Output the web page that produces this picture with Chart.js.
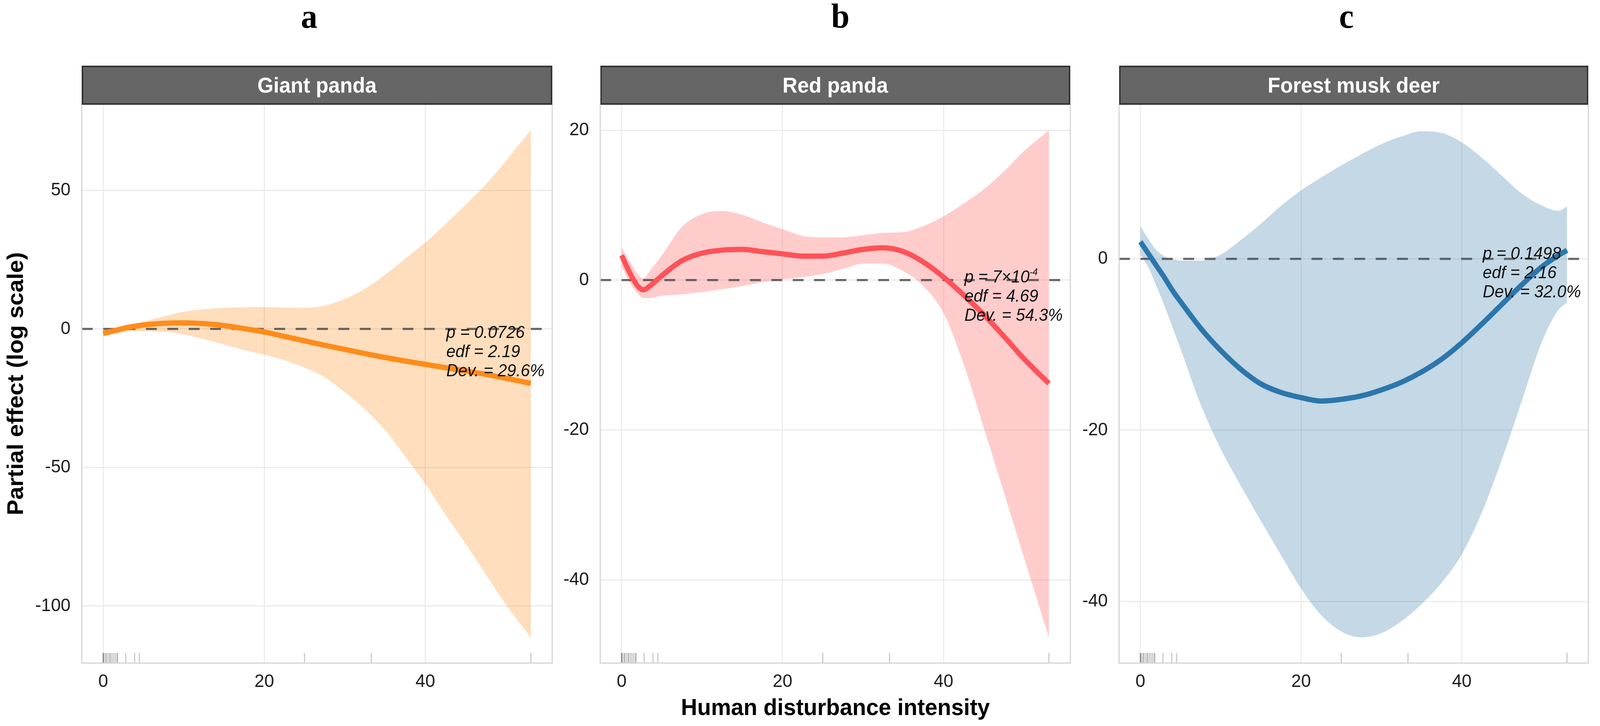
<!DOCTYPE html>
<html>
<head>
<meta charset="utf-8">
<script src="https://cdn.jsdelivr.net/npm/chart.js@4.4.1/dist/chart.umd.min.js"></script>
<style>
  html, body { margin: 0; padding: 0; background: #fff; overflow: hidden; }
  #page { position: absolute; left: 0; top: 0; width: 4265px; height: 1858px; transform-origin: 0 0;
          font-family: 'Liberation Sans', Arial, sans-serif; }
  .panel { position: absolute; }
  .strip { position: absolute; box-sizing: border-box; background: #666666; border: 4px solid #333333;
           color: #fff; font-weight: bold; font-size: 55px; line-height: 92px; text-align: center; }
  .tag { position: absolute; top: -2px; width: 200px; text-align: center; font-family: 'Liberation Serif', 'Times New Roman', serif;
         font-weight: bold; font-size: 88px; line-height: 88px; color: #000; }
  .note { position: absolute; font-style: italic; font-size: 44px; line-height: 49px; color: #111; white-space: nowrap; }
  .note sup { font-size: 0.55em; line-height: 0; vertical-align: 0.8em; }
  .axtitle { position: absolute; font-weight: bold; font-size: 60px; line-height: 60px; color: #000; white-space: nowrap; text-align: center; }
</style>
</head>
<body>
<div id="page"></div>
<script>
// --- data ---
const species = ['Giant panda', 'Red panda', 'Forest musk deer'];
const panelTags = ['a', 'b', 'c'];
const xTicks = [0, 20, 40];
const yTicksGiant = [-100, -50, 0, 50];
const yTicksRed = [-40, -20, 0, 20];
const yTicksDeer = [-40, -20, 0];

// Giant panda
const xGiant = [0, 2, 3, 5, 7.5, 10, 12.5, 15, 17.5, 20, 22.5, 25, 27.5, 30, 32.5, 35, 37.5, 40, 42.5, 45, 47.5, 50, 53.1];
const fitGiant = [-1.6, -0.2, 0.5, 1.4, 2.0, 2.2, 1.9, 1.2, 0.1, -1.1, -2.7, -4.3, -5.9, -7.4, -8.9, -10.3, -11.6, -12.8, -14.0, -15.2, -16.4, -17.8, -19.7];
const upperGiant = [-0.6, 0.6, 1.2, 2.6, 4.5, 6.2, 7.1, 7.6, 7.8, 7.9, 7.7, 7.6, 8.4, 10.8, 14.5, 19.5, 25.3, 31.2, 37.8, 44.8, 52.1, 60.6, 71.7];
const lowerGiant = [-2.7, -1.5, -1.0, -0.8, -1.0, -2.0, -3.7, -5.6, -7.6, -9.3, -11.3, -14.0, -17.5, -22.8, -29.0, -36.5, -46.0, -56.0, -67.0, -77.5, -88.5, -99.5, -111.4];

// Red panda
const xRed = [0, 1, 2, 2.7, 3.5, 5, 7.5, 10, 12.5, 15, 17.5, 20, 22.5, 25, 27.5, 30, 32.5, 35, 37.5, 40, 42.5, 45, 47.5, 50, 53.1];
const fitRed = [3.3, 1.0, -0.8, -1.3, -0.8, 0.6, 2.6, 3.6, 4.0, 4.1, 3.8, 3.5, 3.2, 3.2, 3.6, 4.1, 4.3, 3.8, 2.4, 0.4, -2.0, -4.6, -7.5, -10.5, -13.8];
const upperRed = [4.3, 2.5, 0.8, 0.2, 1.2, 3.3, 7.1, 8.8, 9.2, 8.7, 7.7, 6.8, 5.9, 5.7, 5.7, 6.0, 6.3, 6.4, 7.2, 8.5, 10.2, 12.1, 14.5, 17.2, 20.0];
const lowerRed = [1.8, -0.3, -1.8, -2.4, -2.4, -2.1, -1.9, -1.6, -1.2, -0.8, -0.3, 0.1, 0.4, 0.8, 1.5, 2.2, 2.2, 1.2, -0.8, -4.4, -11.2, -19.7, -28.3, -37.0, -47.7];

// Forest musk deer
const xDeer = [0, 1, 2, 3, 4, 5, 7.5, 10, 12.5, 15, 17.5, 20, 22.5, 25, 27.5, 30, 32.5, 35, 37.5, 40, 42.5, 45, 47.5, 50, 52, 53.1];
const fitDeer = [2.0, 0.6, -0.8, -2.2, -3.7, -5.0, -8.1, -10.7, -12.9, -14.6, -15.6, -16.2, -16.6, -16.4, -16.0, -15.3, -14.4, -13.2, -11.7, -9.8, -7.6, -5.3, -3.0, -0.9, 0.4, 1.0];
const upperDeer = [3.8, 2.3, 1.0, 0.3, -0.05, -0.2, -0.2, 0.5, 2.2, 4.1, 6.2, 8.0, 9.5, 10.9, 12.2, 13.4, 14.3, 14.9, 14.7, 13.6, 11.8, 9.7, 7.6, 6.2, 5.6, 6.1];
const lowerDeer = [0.5, -1.0, -3.2, -5.5, -8.0, -10.5, -17.0, -22.2, -26.5, -30.6, -34.6, -38.5, -41.6, -43.5, -44.2, -43.7, -42.3, -40.3, -37.8, -34.5, -29.6, -23.4, -16.5, -9.6, -6.0, -5.1];

// rug of observed disturbance values (same covariate in every panel)
const rugX = [0, 0, 0.1, 0.3, 0.4, 0.6, 0.8, 0.9, 1.1, 1.3, 1.5, 1.7, 1.8, 2.8, 3.9, 4.5, 25.0, 33.3, 53.1];

// model summaries
const notesGiant = ['p = 0.0726', 'edf = 2.19', 'Dev. = 29.6%'];
const notesRed = ['p = 7×10<sup>-4</sup>', 'edf = 4.69', 'Dev. = 54.3%'];
const notesDeer = ['p = 0.1498', 'edf = 2.16', 'Dev. = 32.0%'];

// --- layout / style ---
const PAGE_W = 4265, PAGE_H = 1858;
const X_MIN = -2.655, X_MAX = 55.755;
const TOP = 268, BOTTOM = 1697;
const Y_AXIS_W = 180, X_AXIS_H = 100, PAD_TOP = 70, PAD_RIGHT = 10;
const NOTE_X = 42.6;

const panels = [
  { left: 218, right: 1472, tagX: 824, xs: xGiant, fit: fitGiant, upper: upperGiant, lower: lowerGiant,
    yMin: -120.6, yMax: 80.9, yTicks: yTicksGiant, notes: notesGiant, noteY: -3.25,
    line: '#FF8C1A', band: 'rgba(255,128,0,0.26)' },
  { left: 1600, right: 2853, tagX: 2240, xs: xRed, fit: fitRed, upper: upperRed, lower: lowerRed,
    yMin: -51.1, yMax: 23.4, yTicks: yTicksRed, notes: notesRed, noteY: -0.3,
    line: '#FF5258', band: 'rgba(255,85,85,0.3)' },
  { left: 2983, right: 4234, tagX: 3589, xs: xDeer, fit: fitDeer, upper: upperDeer, lower: lowerDeer,
    yMin: -47.2, yMax: 18.0, yTicks: yTicksDeer, notes: notesDeer, noteY: 0,
    line: '#2C76AC', band: 'rgba(44,116,166,0.28)' }
];

const page = document.getElementById('page');

Chart.defaults.font.family = "'Liberation Sans', Arial, sans-serif";
Chart.defaults.font.size = 47;
Chart.defaults.color = '#1a1a1a';

const rugPlugin = {
  id: 'rug',
  beforeDatasetsDraw(chart) {
    const { ctx, chartArea, scales } = chart;
    ctx.save();
    ctx.strokeStyle = 'rgba(0,0,0,0.22)';
    ctx.lineWidth = 3;
    rugX.forEach(v => {
      const px = scales.x.getPixelForValue(v);
      ctx.beginPath();
      ctx.moveTo(px, chartArea.bottom);
      ctx.lineTo(px, chartArea.bottom - 26);
      ctx.stroke();
    });
    ctx.restore();
  }
};

const framePlugin = {
  id: 'frame',
  afterDraw(chart) {
    const { ctx, chartArea: a } = chart;
    ctx.save();
    ctx.strokeStyle = '#D4D4D4';
    ctx.lineWidth = 3;
    ctx.strokeRect(a.left, a.top, a.right - a.left, a.bottom - a.top);
    ctx.restore();
  }
};

function el(cls, html, css) {
  const d = document.createElement('div');
  d.className = cls;
  d.innerHTML = html;
  Object.assign(d.style, css);
  page.appendChild(d);
  return d;
}

panels.forEach((p, i) => {
  const boxLeft = p.left - Y_AXIS_W;
  const boxTop = TOP - PAD_TOP;
  const box = el('panel', '', {
    left: boxLeft + 'px', top: boxTop + 'px',
    width: (p.right - p.left + Y_AXIS_W + PAD_RIGHT) + 'px',
    height: (BOTTOM - TOP + PAD_TOP + X_AXIS_H) + 'px'
  });
  const canvas = document.createElement('canvas');
  box.appendChild(canvas);

  const pts = arr => p.xs.map((x, k) => ({ x: x, y: arr[k] }));

  const chart = new Chart(canvas.getContext('2d'), {
    type: 'line',
    data: {
      datasets: [
        { data: pts(p.upper), borderWidth: 0, pointRadius: 0, fill: '+1', backgroundColor: p.band,
          cubicInterpolationMode: 'monotone', order: 3 },
        { data: pts(p.lower), borderWidth: 0, pointRadius: 0, fill: false,
          cubicInterpolationMode: 'monotone', order: 3 },
        { data: pts(p.fit), borderColor: p.line, borderWidth: 13.5, pointRadius: 0, fill: false,
          cubicInterpolationMode: 'monotone', order: 0 },
        { data: [{ x: X_MIN, y: 0 }, { x: X_MAX, y: 0 }], borderColor: 'rgba(70,70,70,0.8)', borderWidth: 5.5,
          borderDash: [29, 28], pointRadius: 0, fill: false, order: 1 }
      ]
    },
    options: {
      responsive: true,
      maintainAspectRatio: false,
      animation: false,
      layout: { padding: { top: PAD_TOP, right: PAD_RIGHT, left: 0, bottom: 0 } },
      plugins: { legend: { display: false }, tooltip: { enabled: false }, title: { display: false } },
      scales: {
        x: {
          type: 'linear', min: X_MIN, max: X_MAX,
          afterBuildTicks: s => { s.ticks = xTicks.map(v => ({ value: v })); },
          afterFit: s => { s.height = X_AXIS_H; },
          grid: { color: '#EBEBEB', lineWidth: 3, drawTicks: false },
          border: { display: false },
          ticks: { padding: 20 }
        },
        y: {
          type: 'linear', min: p.yMin, max: p.yMax,
          afterBuildTicks: s => { s.ticks = p.yTicks.map(v => ({ value: v })); },
          afterFit: s => { s.width = Y_AXIS_W; },
          grid: { color: '#EBEBEB', lineWidth: 3, drawTicks: false },
          border: { display: false },
          ticks: { padding: 30 }
        }
      }
    },
    plugins: [rugPlugin, framePlugin]
  });

  // facet strip and panel letter
  el('strip', species[i], { left: p.left + 'px', top: (TOP - 100) + 'px', width: (p.right - p.left) + 'px', height: '100px' });
  el('tag', panelTags[i], { left: (p.tagX - 100) + 'px' });

  // model summary, anchored in data coordinates
  const nx = boxLeft + chart.scales.x.getPixelForValue(NOTE_X);
  const ny = boxTop + chart.scales.y.getPixelForValue(p.noteY) - 40;
  el('note', p.notes.join('<br>'), { left: nx + 'px', top: ny + 'px' });
});

el('axtitle', 'Human disturbance intensity', { left: (2227 - 600) + 'px', top: '1780px', width: '1200px' });
el('axtitle', 'Partial effect (log scale)', {
  left: (41 - 500) + 'px', top: (982 - 30) + 'px', width: '1000px', height: '60px', transform: 'rotate(-90deg)'
});

// the window may be narrower than the 4265px layout: stretch the finished layout to fill it
const sx = window.innerWidth / PAGE_W, sy = window.innerHeight / PAGE_H;
if (Math.abs(sx - 1) > 0.002 || Math.abs(sy - 1) > 0.002) {
  page.style.transform = 'scale(' + sx + ',' + sy + ')';
}
</script>
</body>
</html>
